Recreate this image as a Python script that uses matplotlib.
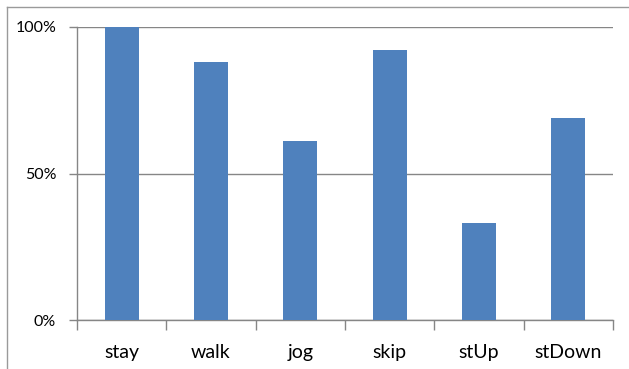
import matplotlib
matplotlib.use("Agg")
import matplotlib.pyplot as plt
from matplotlib.lines import Line2D
from matplotlib.ticker import FuncFormatter

categories = ["stay", "walk", "jog", "skip", "stUp", "stDown"]
values = [1.00, 0.88, 0.61, 0.92, 0.33, 0.69]
y_ticks = [0.0, 0.5, 1.0]

plt.rcParams["font.family"] = ["Lato", "DejaVu Sans"]

W, H = 629, 369
fig = plt.figure(figsize=(W / 100, H / 100), dpi=100)
ax = fig.add_axes([77 / W, 1 - 320 / H, (613 - 77) / W, (320 - 27) / H])

x = range(len(categories))
ax.bar(x, values, width=0.38, color="#4F81BD", zorder=3)

ax.set_xlim(-0.5, len(categories) - 0.5)
ax.set_ylim(0, 1.0)
ax.set_yticks(y_ticks)
ax.yaxis.set_major_formatter(FuncFormatter(lambda v, _: f"{v:.0%}"))
ax.grid(axis="y", color="#868686", linewidth=1.0, zorder=0)

ax.set_xticks([i - 0.5 for i in range(len(categories) + 1)], minor=False)
ax.set_xticklabels([])
ax.set_xticks(list(x), minor=True)
ax.set_xticklabels(categories, minor=True)
ax.tick_params(axis="x", which="major", length=7, color="#868686", width=1.0)
ax.tick_params(axis="x", which="minor", length=0, pad=17, labelsize=14)
ax.tick_params(axis="y", length=6, color="#868686", width=1.0, labelsize=11.5, pad=9)

for side in ("top", "right"):
    ax.spines[side].set_visible(False)
for side in ("left", "bottom"):
    ax.spines[side].set_color("#868686")
    ax.spines[side].set_linewidth(1.0)

# outer chart frame
fig.add_artist(Line2D([7 / W, 7 / W], [0, 1 - 7 / H], transform=fig.transFigure,
                      color="#9a9a9a", linewidth=1.0))
fig.add_artist(Line2D([7 / W, 1], [1 - 7 / H, 1 - 7 / H], transform=fig.transFigure,
                      color="#9a9a9a", linewidth=1.0))

fig.savefig("out.png", dpi=100)
